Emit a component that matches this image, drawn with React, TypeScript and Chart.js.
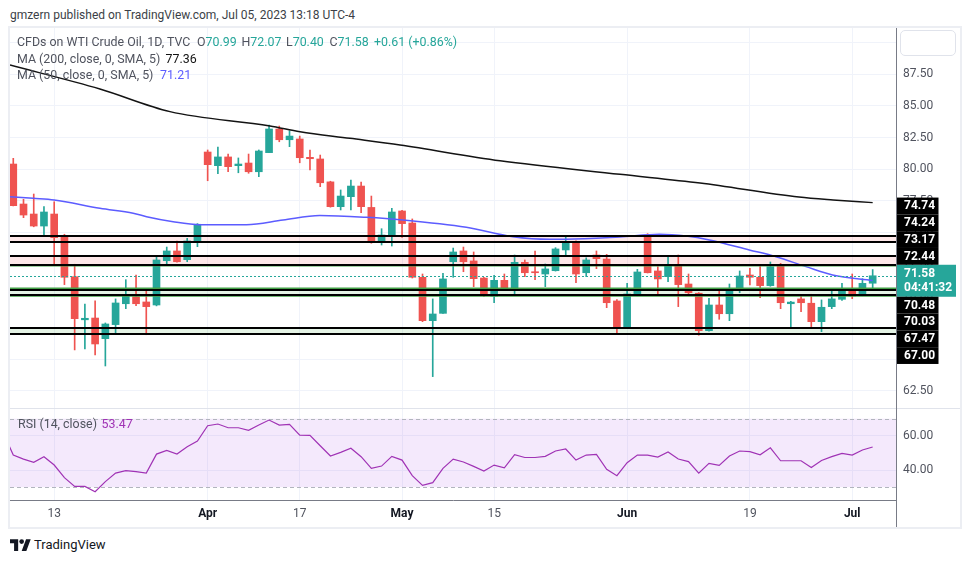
import React, { useEffect, useRef } from 'react';
import { Chart, registerables } from 'chart.js';

Chart.register(...registerables);

const FONT = 'Roboto, "Liberation Sans", Arial, sans-serif';
const UP = '#26a69a';
const DOWN = '#ef5350';
const GRID = '#f0f3fa';
const TEXT = '#50535e';
const MA200_COLOR = '#131313';
const MA50_COLOR = '#5c5cff';
const RSI_COLOR = '#a033b5';

// Daily candles, Mar 7 – Jul 5 2023 (index 0 = Mar 7)
const opens = [80.41, 77.25, 76.46, 75.51, 76.46, 74.64, 71.51, 68.10, 68.24, 66.61,
  67.72, 69.37, 69.93, 69.51, 69.27, 72.77, 73.54, 72.85, 74.27, 81.36,
  80.28, 80.97, 80.28, 80.49, 79.80, 81.31, 83.18, 82.33, 82.39, 80.94,
  80.81, 79.00, 77.04, 77.83, 78.67, 76.98, 74.35, 74.80, 76.70, 75.75,
  71.46, 68.03, 68.61, 72.69, 73.54, 72.75, 71.40, 69.96, 71.22, 70.48,
  72.64, 71.88, 71.72, 71.98, 73.62, 74.20, 71.82, 73.22, 72.90, 69.59,
  67.45, 70.06, 74.80, 71.96, 71.51, 72.43, 70.93, 70.20, 67.24, 69.27,
  68.58, 70.40, 71.64, 71.46, 70.80, 72.35, 69.37, 69.75, 69.41, 67.95,
  69.14, 69.72, 70.38, 70.06, 70.99];
const highs = [80.86, 77.62, 78.04, 77.04, 77.43, 74.86, 72.49, 69.35, 69.59, 67.85,
  69.75, 71.27, 71.64, 70.38, 73.09, 73.85, 74.33, 74.54, 75.70, 81.52,
  81.75, 81.20, 80.89, 81.20, 81.52, 83.49, 83.41, 83.04, 82.62, 81.52,
  81.12, 79.05, 78.36, 79.15, 78.99, 77.88, 75.30, 76.91, 76.75, 76.07,
  71.72, 69.75, 71.78, 73.77, 73.85, 73.46, 71.45, 71.62, 71.72, 73.22,
  72.83, 73.54, 72.51, 73.80, 74.72, 74.35, 73.00, 73.54, 73.27, 69.70,
  70.98, 72.09, 74.91, 72.30, 73.14, 73.22, 71.72, 70.25, 69.80, 70.46,
  70.93, 71.96, 72.17, 72.30, 72.67, 72.56, 69.56, 70.12, 70.12, 69.67,
  70.51, 70.98, 71.72, 71.35, 72.07];
const lows = [77.10, 76.17, 75.45, 74.80, 72.38, 70.88, 65.72, 65.79, 65.32, 64.45,
  67.08, 68.98, 69.22, 66.92, 69.20, 72.38, 72.65, 72.69, 73.88, 79.09,
  79.65, 79.80, 79.72, 79.68, 79.41, 81.30, 82.17, 81.78, 80.51, 79.94,
  78.62, 77.00, 76.78, 76.78, 76.57, 74.15, 74.01, 73.93, 74.62, 71.40,
  67.95, 63.61, 68.60, 71.46, 71.90, 70.72, 69.95, 69.45, 70.45, 70.06,
  71.51, 71.27, 70.72, 71.95, 73.14, 71.03, 71.51, 72.14, 69.06, 67.08,
  67.40, 70.00, 71.80, 70.14, 71.11, 69.14, 70.14, 66.88, 67.20, 68.14,
  68.03, 70.24, 70.85, 69.85, 70.75, 68.98, 67.40, 68.74, 67.56, 67.16,
  68.98, 69.64, 69.77, 70.00, 70.40];
const closes = [77.12, 76.38, 75.51, 76.62, 74.59, 71.46, 68.19, 68.22, 66.19, 67.77,
  69.43, 69.96, 69.37, 69.14, 72.83, 73.54, 72.69, 74.33, 75.65, 80.36,
  80.97, 80.20, 80.41, 79.80, 81.44, 83.18, 82.33, 82.62, 80.91, 80.83,
  78.93, 77.04, 77.88, 78.67, 77.04, 74.25, 74.80, 76.62, 75.70, 71.46,
  68.03, 68.56, 71.33, 73.46, 72.69, 71.35, 70.01, 71.22, 70.48, 72.64,
  71.82, 71.82, 72.12, 73.70, 74.20, 71.72, 72.83, 72.93, 69.45, 67.45,
  70.14, 71.88, 71.82, 71.33, 72.43, 70.88, 70.24, 67.24, 69.27, 68.58,
  70.59, 71.56, 71.46, 70.80, 72.30, 69.45, 69.50, 69.45, 67.95, 69.09,
  69.75, 70.40, 69.98, 70.98, 71.58];

// RSI(14): value of the bar before the first visible one, then one per candle
const rsiPrev = 62.0;
const rsiValues = [48.75, 46.4, 44.5, 47.8, 42.9, 35.5, 30.4, 30.4, 27.3, 33.2,
  38.2, 39.6, 39.0, 38.2, 49.3, 51.5, 49.3, 53.6, 56.9, 65.9,
  66.9, 64.7, 64.7, 63.2, 66.3, 69.2, 66.3, 66.7, 60.4, 60.25,
  54.2, 48.2, 50.3, 52.7, 47.8, 41.0, 42.3, 48.0, 45.8, 36.7,
  31.0, 32.6, 41.0, 46.4, 44.7, 42.1, 39.4, 42.9, 41.3, 49.0,
  47.3, 47.3, 48.0, 51.1, 52.3, 45.8, 48.75, 49.1, 40.4, 36.7,
  44.3, 48.75, 48.75, 47.6, 50.5, 46.4, 44.9, 38.2, 43.9, 42.7,
  48.2, 51.1, 50.7, 48.9, 53.0, 45.4, 45.4, 45.4, 41.5, 45.6,
  47.8, 49.7, 48.75, 51.7, 53.47];

// Moving averages read at points along the curves (bar index, price)
const ma200Idx = [-0.32, 8.47, 15.32, 25.09, 28.03, 32.91, 37.8, 47.58, 59.31, 67.13, 76.8, 80.13, 84];
const ma200Val = [88.23, 86.34, 84.55, 83.42, 82.96, 82.44, 81.91, 80.67, 79.60, 78.91, 77.80, 77.57, 77.36];
const ma50Idx = [-0.32, 1.95, 4.0, 8.47, 11.72, 13.03, 15.63, 18.23, 22.79, 26.37, 29.95, 34.51, 38.09,
  44.28, 48.83, 52.41, 54.04, 59.25, 63.15, 65.76, 68.04, 71.94, 74.55, 77.48, 80.08, 84];
const ma50Val = [77.83, 77.70, 77.57, 76.91, 76.52, 76.25, 75.85, 75.62, 75.62, 75.99, 76.34, 76.20, 75.99,
  75.41, 74.67, 74.46, 74.46, 74.64, 74.86, 74.72, 74.41, 73.62, 73.09, 72.30, 71.64, 71.21];

// Time axis labels (bar index -> text)
const tickIndices = [4, 19, 28, 38, 47, 60, 72, 82];
const tickLabels = ['13', 'Apr', '17', 'May', '15', 'Jun', '19', 'Jul'];
const monthLabels = ['Apr', 'May', 'Jun', 'Jul'];

// Price axis
const priceTicks = [62.5, 65, 67.5, 70, 72.5, 75, 77.5, 80, 82.5, 85, 87.5, 90];
const rsiTicks = [40, 60];
const rsiUpper = 70;
const rsiLower = 30;

// Drawn levels
const levelPrices = [74.74, 74.24, 73.17, 72.44, 70.48, 70.03, 67.47, 67.0];
const greenLevels = [72.37, 70.6, 69.99, 66.97];
const redZones = [[74.74, 74.24], [73.17, 72.44]];
const greenZones = [[70.6, 70.03], [67.47, 67.0]];
const lastPrice = 71.58;
const countdown = '04:41:32';

// Legend values
const ohlcLegend = [['O', '70.99'], ['H', '72.07'], ['L', '70.40'], ['C', '71.58']];
const changeLegend = '+0.61 (+0.86%)';
const ma200Legend = '77.36';
const ma50Legend = '71.21';
const rsiLegend = '53.47';

// Visible ranges
const X_MIN = -0.32;
const X_MAX = 86.28;
const Y_MIN = 61.13;
const Y_MAX = 91.16;
const RSI_MIN = 22.46;
const RSI_MAX = 76.26;
const AXIS_W = 64;

const candleColors = closes.map((c, i) => (c >= opens[i] ? UP : DOWN));

const levelsPlugin = {
  id: 'levels',
  beforeDatasetsDraw(chart: any) {
    const { ctx, chartArea: a, scales } = chart;
    const y = scales.y;
    ctx.save();
    ctx.beginPath();
    ctx.rect(a.left, a.top, a.right - a.left, a.bottom - a.top);
    ctx.clip();
    ctx.fillStyle = 'rgba(242, 54, 69, 0.12)';
    redZones.forEach(([p1, p2]) => {
      const y1 = y.getPixelForValue(p1);
      const y2 = y.getPixelForValue(p2);
      ctx.fillRect(a.left, y1, a.right - a.left, y2 - y1);
    });
    ctx.fillStyle = 'rgba(76, 175, 80, 0.15)';
    greenZones.forEach(([p1, p2]) => {
      const y1 = y.getPixelForValue(p1);
      const y2 = y.getPixelForValue(p2);
      ctx.fillRect(a.left, y1, a.right - a.left, y2 - y1);
    });
    ctx.restore();
  },
  afterDatasetsDraw(chart: any) {
    const { ctx, chartArea: a, scales } = chart;
    const y = scales.y;
    ctx.save();
    ctx.beginPath();
    ctx.rect(a.left, a.top, a.right - a.left, a.bottom - a.top);
    ctx.clip();
    ctx.strokeStyle = '#43a047';
    ctx.lineWidth = 1.5;
    greenLevels.forEach((p) => {
      const py = y.getPixelForValue(p);
      ctx.beginPath();
      ctx.moveTo(a.left, py);
      ctx.lineTo(a.right, py);
      ctx.stroke();
    });
    ctx.strokeStyle = '#000';
    ctx.lineWidth = 2;
    levelPrices.forEach((p) => {
      const py = Math.round(y.getPixelForValue(p));
      ctx.beginPath();
      ctx.moveTo(a.left, py);
      ctx.lineTo(a.right, py);
      ctx.stroke();
    });
    const cy = Math.round(y.getPixelForValue(lastPrice)) + 0.5;
    ctx.strokeStyle = UP;
    ctx.lineWidth = 1;
    ctx.setLineDash([2, 2]);
    ctx.beginPath();
    ctx.moveTo(a.left, cy);
    ctx.lineTo(a.right, cy);
    ctx.stroke();
    ctx.restore();
  },
  afterDraw(chart: any) {
    const { ctx, chartArea: a, scales } = chart;
    const y = scales.y;
    const H = 16.8;
    const xL = a.right + 1;
    ctx.save();
    ctx.font = `bold 12px ${FONT}`;
    ctx.textBaseline = 'middle';
    ctx.textAlign = 'left';
    const py = y.getPixelForValue(lastPrice);
    const curTop = py - 11;
    const curH = 32;
    ctx.fillStyle = UP;
    ctx.fillRect(xL, curTop, 59, curH);
    ctx.fillStyle = '#fff';
    ctx.fillText(lastPrice.toFixed(2), xL + 7, curTop + 9.5);
    ctx.fillText(countdown, xL + 7, curTop + 23.5);
    const drawBox = (p: number, c: number) => {
      ctx.fillStyle = '#000';
      ctx.fillRect(xL, c - H / 2, 41.5, H);
      ctx.fillStyle = '#fff';
      ctx.fillText(p.toFixed(2), xL + 7, c + 0.5);
    };
    const above = levelPrices.filter((p) => p > lastPrice).sort((m, n) => m - n);
    const below = levelPrices.filter((p) => p < lastPrice).sort((m, n) => n - m);
    let prevTop = curTop;
    above.forEach((p) => {
      const c = Math.min(y.getPixelForValue(p), prevTop - H / 2);
      drawBox(p, c);
      prevTop = c - H / 2;
    });
    let prevBottom = curTop + curH;
    below.forEach((p) => {
      const c = Math.max(y.getPixelForValue(p), prevBottom + H / 2);
      drawBox(p, c);
      prevBottom = c + H / 2;
    });
    ctx.restore();
  },
};

const rsiBandPlugin = {
  id: 'rsiBand',
  beforeDatasetsDraw(chart: any) {
    const { ctx, chartArea: a, scales } = chart;
    const y = scales.y;
    const yU = y.getPixelForValue(rsiUpper);
    const yL = y.getPixelForValue(rsiLower);
    ctx.save();
    ctx.fillStyle = 'rgba(150, 40, 230, 0.1)';
    ctx.fillRect(a.left, yU, a.right - a.left, yL - yU);
    ctx.strokeStyle = '#b2b5be';
    ctx.lineWidth = 1;
    ctx.setLineDash([4, 3]);
    [yU, yL].forEach((py) => {
      const yy = Math.round(py) + 0.5;
      ctx.beginPath();
      ctx.moveTo(a.left, yy);
      ctx.lineTo(a.right, yy);
      ctx.stroke();
    });
    ctx.restore();
  },
};

const xTicksFromIdx = (s: any) => {
  s.ticks = tickIndices.map((v) => ({ value: v }));
};
const labelFor = (v: any) => {
  const k = tickIndices.indexOf(Math.round(Number(v)));
  return k >= 0 ? tickLabels[k] : '';
};
const isMonthCtx = (c: any) => {
  const t = c && c.tick;
  if (!t) return false;
  return monthLabels.includes(labelFor(t.value));
};

export default function App() {
  const mainRef = useRef<HTMLCanvasElement>(null);
  const rsiRef = useRef<HTMLCanvasElement>(null);

  useEffect(() => {
    let main: any = null;
    let rsi: any = null;
    try {
      main = new Chart(mainRef.current as HTMLCanvasElement, {
        type: 'bar',
        data: {
          datasets: [
            {
              type: 'line',
              data: ma200Idx.map((x, i) => ({ x, y: ma200Val[i] })),
              borderColor: MA200_COLOR,
              borderWidth: 1.5,
              pointRadius: 0,
              cubicInterpolationMode: 'monotone',
              order: 0,
            } as any,
            {
              type: 'line',
              data: ma50Idx.map((x, i) => ({ x, y: ma50Val[i] })),
              borderColor: MA50_COLOR,
              borderWidth: 1.5,
              pointRadius: 0,
              cubicInterpolationMode: 'monotone',
              order: 1,
            } as any,
            {
              type: 'bar',
              data: opens.map((o, i) => ({ x: i, y: [o, closes[i]] })),
              backgroundColor: candleColors,
              barThickness: 7,
              minBarLength: 1,
              grouped: false,
              order: 2,
            } as any,
            {
              type: 'bar',
              data: highs.map((h, i) => ({ x: i, y: [lows[i], h] })),
              backgroundColor: candleColors,
              barThickness: 1,
              grouped: false,
              order: 3,
            } as any,
          ],
        },
        options: {
          responsive: false,
          animation: false,
          devicePixelRatio: 1,
          layout: { padding: 0, autoPadding: false } as any,
          plugins: { legend: { display: false }, tooltip: { enabled: false } },
          scales: {
            x: {
              type: 'linear',
              min: X_MIN,
              max: X_MAX,
              offset: false,
              afterBuildTicks: xTicksFromIdx,
              afterFit: (s: any) => {
                s.height = 0;
                s.paddingLeft = 0;
                s.paddingRight = 0;
              },
              ticks: { display: false },
              grid: { color: GRID, drawTicks: false, offset: false },
              border: { display: false },
            },
            y: {
              type: 'linear',
              position: 'right',
              min: Y_MIN,
              max: Y_MAX,
              afterBuildTicks: (s: any) => {
                s.ticks = priceTicks.map((v) => ({ value: v }));
              },
              afterFit: (s: any) => {
                s.width = AXIS_W;
                s.paddingTop = 0;
                s.paddingBottom = 0;
              },
              ticks: {
                color: TEXT,
                padding: 7,
                font: { family: FONT, size: 12 },
                callback: (v: any) => Number(v).toFixed(2),
              },
              grid: { color: GRID, drawTicks: false },
              border: { display: false },
            },
          },
        } as any,
        plugins: [levelsPlugin],
      } as any);
    } catch (e) {
      console.error(e);
    }

    try {
      rsi = new Chart(rsiRef.current as HTMLCanvasElement, {
        type: 'line',
        data: {
          datasets: [
            {
              data: [{ x: -1, y: rsiPrev }, ...rsiValues.map((v, i) => ({ x: i, y: v }))],
              borderColor: RSI_COLOR,
              borderWidth: 1.2,
              pointRadius: 0,
              tension: 0,
            },
          ],
        },
        options: {
          responsive: false,
          animation: false,
          devicePixelRatio: 1,
          layout: { padding: 0, autoPadding: false } as any,
          plugins: { legend: { display: false }, tooltip: { enabled: false } },
          scales: {
            x: {
              type: 'linear',
              min: X_MIN,
              max: X_MAX,
              afterBuildTicks: xTicksFromIdx,
              afterFit: (s: any) => {
                s.height = 27;
                s.paddingLeft = 0;
                s.paddingRight = 0;
              },
              ticks: {
                autoSkip: false,
                maxRotation: 0,
                padding: 7,
                callback: (v: any) => labelFor(v),
                color: (c: any) => (isMonthCtx(c) ? '#131722' : TEXT),
                font: (c: any) => ({
                  family: FONT,
                  size: 12,
                  weight: isMonthCtx(c) ? 'bold' : 'normal',
                }),
              },
              grid: { color: GRID, drawTicks: false },
              border: { display: true, color: '#787b86', width: 1 },
            },
            y: {
              type: 'linear',
              position: 'right',
              min: RSI_MIN,
              max: RSI_MAX,
              afterBuildTicks: (s: any) => {
                s.ticks = rsiTicks.map((v) => ({ value: v }));
              },
              afterFit: (s: any) => {
                s.width = AXIS_W;
                s.paddingTop = 0;
                s.paddingBottom = 0;
              },
              ticks: {
                color: TEXT,
                padding: 7,
                font: { family: FONT, size: 12 },
                callback: (v: any) => Number(v).toFixed(2),
              },
              grid: { color: GRID, drawTicks: false },
              border: { display: false },
            },
          },
        } as any,
        plugins: [rsiBandPlugin],
      } as any);
    } catch (e) {
      console.error(e);
    }

    return () => {
      if (main) main.destroy();
      if (rsi) rsi.destroy();
    };
  }, []);

  const abs = (s: any) => ({ position: 'absolute', ...s } as React.CSSProperties);
  const legendText = { fontSize: 12.4, color: TEXT, whiteSpace: 'nowrap', lineHeight: '16px' };
  const ohlcX = [197, 241.5, 286, 329.5];

  return (
    <div style={abs({ left: 0, top: 0, width: 970, height: 563, background: '#fff', fontFamily: FONT, overflow: 'hidden' })}>
      <div style={abs({ left: 10, top: 7, fontSize: 12, color: '#3c3f47', whiteSpace: 'nowrap', lineHeight: '16px' })}>
        gmzern published on TradingView.com, Jul 05, 2023 13:18 UTC-4
      </div>
      <div style={abs({ left: 8, top: 26, width: 954, height: 503, border: '2px solid #eceef3', boxSizing: 'border-box' })} />
      <canvas ref={mainRef} width={950} height={380} style={abs({ left: 10, top: 28, width: 950, height: 380 })} />
      <canvas ref={rsiRef} width={950} height={119} style={abs({ left: 10, top: 408, width: 950, height: 119 })} />
      <div style={abs({ left: 10, top: 408, width: 950, height: 1, background: '#e0e3eb' })} />
      <div style={abs({ left: 896, top: 28, width: 1, height: 499, background: '#787b86' })} />
      <div style={abs({ left: 900, top: 30, width: 56, height: 26, border: '1px solid #e0e3eb', borderRadius: 5, boxSizing: 'border-box', background: '#fff' })} />

      <div style={abs({ left: 17, top: 34, ...legendText })}>CFDs on WTI Crude Oil, 1D, TVC</div>
      {ohlcLegend.map(([k, v], i) => (
        <div key={k} style={abs({ left: ohlcX[i], top: 34, ...legendText })}>
          <span>{k}</span><span style={{ color: UP }}>{v}</span>
        </div>
      ))}
      <div style={abs({ left: 374, top: 34, ...legendText, color: UP })}>{changeLegend}</div>

      <div style={abs({ left: 17, top: 51, ...legendText })}>MA (200, close, 0, SMA, 5)</div>
      <div style={abs({ left: 165.5, top: 51, ...legendText, color: MA200_COLOR })}>{ma200Legend}</div>
      <div style={abs({ left: 17, top: 67, ...legendText })}>MA (50, close, 0, SMA, 5)</div>
      <div style={abs({ left: 160, top: 67, ...legendText, color: MA50_COLOR })}>{ma50Legend}</div>

      <div style={abs({ left: 18, top: 416, ...legendText })}>RSI (14, close)</div>
      <div style={abs({ left: 101.5, top: 416, ...legendText, color: RSI_COLOR })}>{rsiLegend}</div>

      <div style={abs({ left: 10, top: 537, display: 'flex', alignItems: 'center', whiteSpace: 'nowrap' })}>
        <svg width="21" height="13" viewBox="0 0 36 22">
          <path d="M14 22H7V9H0V2h14v20z M28 22h-8l7.5-20h8L28 22z" fill="#131722" />
          <circle cx="20" cy="6" r="4" fill="#131722" />
        </svg>
        <span style={{ marginLeft: 3, fontSize: 13, color: '#131722' }}>TradingView</span>
      </div>
    </div>
  );
}
